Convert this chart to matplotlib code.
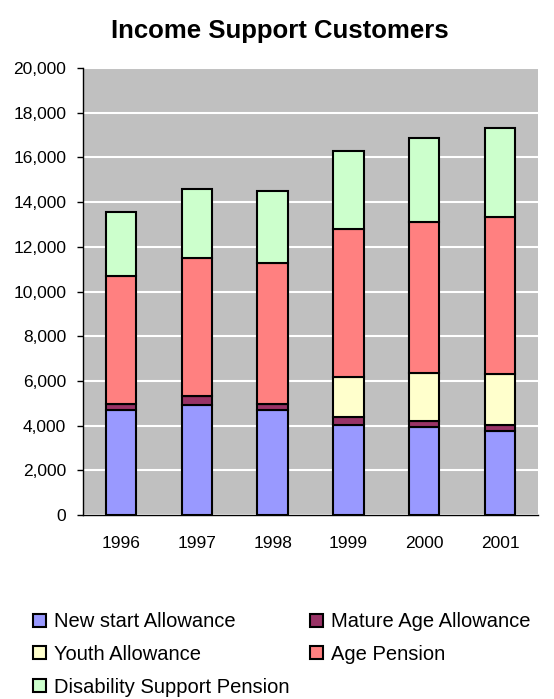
import matplotlib.pyplot as plt
import numpy as np

plt.rcParams["font.family"] = ["Liberation Sans", "DejaVu Sans"]

years = ["1996", "1997", "1998", "1999", "2000", "2001"]
newstart = [4680, 4940, 4680, 4040, 3950, 3770]
mature_age = [290, 370, 290, 360, 270, 260]
youth = [0, 0, 0, 1790, 2150, 2260]
age_pension = [5710, 6180, 6320, 6620, 6720, 7060]
disability = [2860, 3100, 3220, 3480, 3780, 3970]

series = [
    ("New start Allowance", newstart, "#9999FF"),
    ("Mature Age Allowance", mature_age, "#993366"),
    ("Youth Allowance", youth, "#FFFFCC"),
    ("Age Pension", age_pension, "#FF8080"),
    ("Disability Support Pension", disability, "#CCFFCC"),
]

fig = plt.figure(figsize=(5.54, 6.99), dpi=100)
ax = fig.add_axes([0.1498, 0.2632, 0.8213, 0.6395])
ax.set_facecolor("#C0C0C0")

x = np.arange(len(years))
bottom = np.zeros(len(years))
handles = {}
for name, vals, col in series:
    vals = np.array(vals, dtype=float)
    b = ax.bar(x, vals, 0.4, bottom=bottom, color=col, edgecolor="black",
               linewidth=1.5, label=name, zorder=3)
    handles[name] = b
    bottom += vals

ax.set_ylim(0, 20000)
ax.set_xlim(-0.5, len(years) - 0.5)
ax.set_yticks(np.arange(0, 20001, 2000))
ax.set_yticklabels([f"{v:,}" for v in range(0, 20001, 2000)], fontsize=12.5)
ax.set_xticks(x)
ax.set_xticklabels(years, fontsize=12.5)
ax.tick_params(axis="x", length=0, pad=15)
ax.tick_params(axis="y", length=4, width=1, pad=8)
ax.grid(axis="y", color="white", lw=1.5, zorder=0)
for s in ["top", "right"]:
    ax.spines[s].set_visible(False)
for s in ["left", "bottom"]:
    ax.spines[s].set_linewidth(1)

fig.text(0.505, 0.955, "Income Support Customers", ha="center", va="center",
         fontsize=18.5, fontweight="bold")

order = ["New start Allowance", "Mature Age Allowance", "Youth Allowance",
         "Age Pension", "Disability Support Pension"]
# column-major fill so rows read left to right
leg_order = [order[0], order[2], order[4], order[1], order[3]]
leg = fig.legend([handles[n] for n in leg_order], leg_order, loc="upper left",
                 bbox_to_anchor=(0.06, 0.124), ncol=2, frameon=False,
                 fontsize=14.5, handlelength=0.62, handleheight=0.62,
                 handletextpad=0.4, columnspacing=1.05, labelspacing=0.68,
                 borderpad=0, borderaxespad=0)

fig.savefig("out.png", dpi=100)
